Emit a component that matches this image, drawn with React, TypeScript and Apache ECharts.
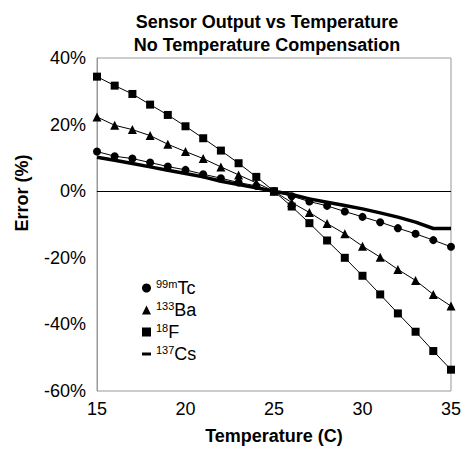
import React, { useEffect, useRef } from "react";
import * as echarts from "echarts";

const temps = [15, 16, 17, 18, 19, 20, 21, 22, 23, 24, 25, 26, 27, 28, 29, 30, 31, 32, 33, 34, 35];
const tc = [11.9, 10.5, 9.8, 8.6, 7.4, 6.4, 5.1, 3.9, 2.6, 1.6, 0, -1.5, -3.1, -4.4, -6.1, -7.7, -9.3, -11.1, -12.8, -14.7, -16.7];
const ba = [22.3, 19.8, 18.5, 16.7, 14.1, 11.9, 9.8, 7.3, 4.9, 2.5, 0, -3.4, -6.4, -9.7, -12.8, -16.5, -19.8, -23.5, -26.8, -31.0, -34.5];
const f18 = [34.4, 31.7, 29.2, 26.0, 22.9, 19.5, 15.9, 12.2, 8.4, 4.3, 0, -4.6, -9.6, -14.8, -20.0, -25.4, -31.0, -36.7, -42.2, -48.0, -53.6];
const cs = [10.2, 9.3, 8.3, 7.3, 6.3, 5.3, 4.3, 3.0, 2.0, 1.0, 0, -1.0, -2.3, -3.3, -4.3, -5.3, -6.5, -7.8, -9.3, -11.2, -11.2];

const seriesNames = ["Tc", "Ba", "F", "Cs"];
const superscripts: Record<string, string> = { Tc: "99m", Ba: "133", F: "18", Cs: "137" };
const titleLines = ["Sensor Output vs Temperature", "No Temperature Compensation"];
const xName = "Temperature (C)";
const yName = "Error (%)";

const FONT = "'Liberation Sans', Arial, sans-serif";

const pairs = (ys: number[]) => temps.map((t, i) => [t, ys[i]]);

export default function App() {
  const ref = useRef<HTMLDivElement>(null);
  useEffect(() => {
    if (!ref.current) return;
    const chart = echarts.init(ref.current, null, { renderer: "svg" });
    chart.setOption({
      animation: false,
      backgroundColor: "#fff",
      textStyle: { fontFamily: FONT },
      grid: {
        left: 97,
        right: 9,
        top: 58,
        bottom: 57,
        show: true,
        borderColor: "#999",
        borderWidth: 1,
      },
      graphic: [
        {
          type: "text",
          x: 267,
          y: 13,
          style: {
            text: titleLines[0],
            fontSize: 18,
            fontWeight: "bold",
            fontFamily: FONT,
            fill: "#000",
            textAlign: "center",
          },
        },
        {
          type: "text",
          x: 267,
          y: 36,
          style: {
            text: titleLines[1],
            fontSize: 18,
            fontWeight: "bold",
            fontFamily: FONT,
            fill: "#000",
            textAlign: "center",
          },
        },
        {
          type: "text",
          x: 22,
          y: 193,
          rotation: Math.PI / 2,
          style: {
            text: yName,
            fontSize: 18,
            fontWeight: "bold",
            fontFamily: FONT,
            fill: "#000",
            textAlign: "center",
            textVerticalAlign: "middle",
          },
        },
      ],
      legend: {
        orient: "vertical",
        left: 137,
        top: 273,
        itemGap: 3,
        itemWidth: 9,
        itemHeight: 9,
        data: [
          { name: "Tc", icon: "circle" },
          { name: "Ba", icon: "triangle" },
          { name: "F", icon: "rect" },
          { name: "Cs", icon: "path://M0,0L12,0L12,4L0,4Z" },
        ],
        formatter: (name: string) => `{sup|${superscripts[name]}}{main|${name}}`,
        textStyle: {
          color: "#000",
          fontFamily: FONT,
          fontSize: 18,
          rich: {
            sup: { fontSize: 11, fontFamily: FONT, color: "#000", verticalAlign: "top", lineHeight: 20 },
            main: { fontSize: 18, fontFamily: FONT, color: "#000", lineHeight: 20 },
          },
        },
      },
      xAxis: {
        type: "value",
        min: 15,
        max: 35,
        interval: 5,
        name: xName,
        nameLocation: "middle",
        nameGap: 36,
        nameTextStyle: { fontSize: 18, fontWeight: "bold", color: "#000", fontFamily: FONT },
        axisLine: { show: true, lineStyle: { color: "#999" } },
        axisTick: { show: false },
        splitLine: { show: false },
        axisLabel: { fontSize: 18, color: "#000", margin: 9, fontFamily: FONT },
      },
      yAxis: {
        type: "value",
        min: -60,
        max: 40,
        interval: 20,
        axisLine: { show: true, lineStyle: { color: "#999" } },
        axisTick: { show: false },
        splitLine: { show: false },
        axisLabel: { fontSize: 18, color: "#000", margin: 11, formatter: "{value}%", fontFamily: FONT },
      },
      series: [
        {
          name: seriesNames[0],
          type: "line",
          data: pairs(tc),
          symbol: "circle",
          symbolSize: 8,
          itemStyle: { color: "#000" },
          lineStyle: { color: "#000", width: 1 },
          markLine: {
            silent: true,
            symbol: "none",
            label: { show: false },
            lineStyle: { color: "#000", width: 1, type: "solid" },
            data: [{ yAxis: 0 }],
          },
        },
        {
          name: seriesNames[1],
          type: "line",
          data: pairs(ba),
          symbol: "triangle",
          symbolSize: 9,
          itemStyle: { color: "#000" },
          lineStyle: { color: "#000", width: 1 },
        },
        {
          name: seriesNames[2],
          type: "line",
          data: pairs(f18),
          symbol: "rect",
          symbolSize: 8,
          itemStyle: { color: "#000" },
          lineStyle: { color: "#000", width: 1 },
        },
        {
          name: seriesNames[3],
          type: "line",
          data: pairs(cs),
          showSymbol: false,
          symbol: "none",
          itemStyle: { color: "#000" },
          lineStyle: { color: "#000", width: 3.5 },
        },
      ],
    });
    return () => chart.dispose();
  }, []);
  return <div ref={ref} style={{ position: "fixed", left: 0, top: 0, width: 464, height: 450 }} />;
}
